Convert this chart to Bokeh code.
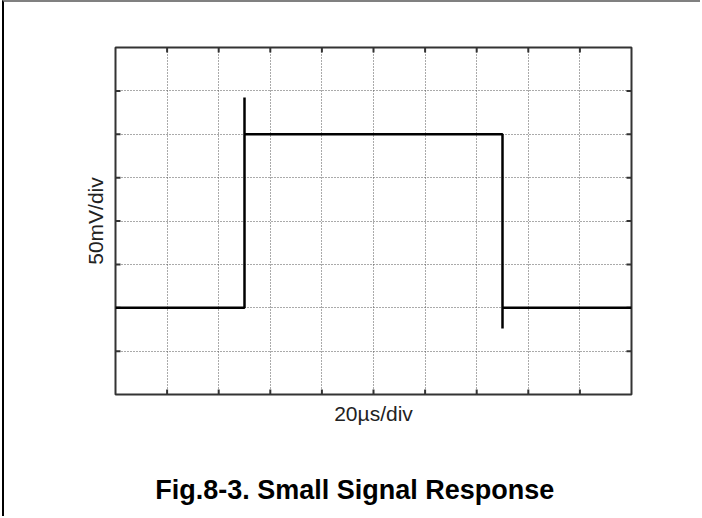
from bokeh.plotting import figure
from bokeh.models import FixedTicker, LinearAxis
from bokeh.embed import file_html
from bokeh.resources import INLINE

# data (in divisions)
time_div = [0, 2.5, 2.5, 2.5, 7.5, 7.5, 7.5, 10]
volt_div = [2, 2, 6.85, 6, 6, 1.52, 2, 2]
x_ticks = [0, 1, 2, 3, 4, 5, 6, 7, 8, 9, 10]
y_ticks = [0, 1, 2, 3, 4, 5, 6, 7, 8]
x_label = "20µs/div"
y_label = "50mV/div"
title_text = "Fig.8-3. Small Signal Response"

p = figure(width=698, height=516, x_range=(0, 10), y_range=(0, 8),
           output_backend="svg", toolbar_location=None,
           min_border_left=111, min_border_right=71,
           min_border_top=45, min_border_bottom=124)
p.background_fill_color = "white"
p.border_fill_color = "white"
p.outline_line_color = "#333333"
p.outline_line_width = 2

for g, t in ((p.xgrid, x_ticks), (p.ygrid, y_ticks)):
    g.ticker = FixedTicker(ticks=t)
    g.grid_line_color = "#555555"
    g.grid_line_width = 1
    g.grid_line_dash = "1 2"

def style_axis(ax, lab, so, size, bold=False, color="#222222"):
    ax.ticker = FixedTicker(ticks=[])
    ax.axis_line_color = None
    ax.major_tick_line_color = None
    ax.minor_tick_line_color = None
    ax.major_tick_out = 0
    ax.major_tick_in = 0
    ax.axis_label = lab
    ax.axis_label_text_font = "Liberation Sans"
    ax.axis_label_text_font_size = size
    ax.axis_label_text_font_style = "bold" if bold else "normal"
    ax.axis_label_text_color = color
    ax.axis_label_standoff = so

style_axis(p.xaxis[0], x_label, 7, "21px")
style_axis(p.yaxis[0], y_label, 9, "21px")

# caption is centred on the page rather than on the plot frame
title_axis = LinearAxis()
style_axis(title_axis, title_text + "\u00a0" * 5, 47, "27px", bold=True, color="black")
p.add_layout(title_axis, "below")

# inward tick marks on the four frame edges
inner_x = x_ticks[1:-1]
inner_y = y_ticks[1:-1]
tick_kw = dict(marker="dash", size=10, line_color="#333333", line_width=2)
p.scatter(inner_x, [y_ticks[0]] * len(inner_x), angle=90, angle_units="deg", **tick_kw)
p.scatter(inner_x, [y_ticks[-1]] * len(inner_x), angle=90, angle_units="deg", **tick_kw)
p.scatter([x_ticks[0]] * len(inner_y), inner_y, **tick_kw)
p.scatter([x_ticks[-1]] * len(inner_y), inner_y, **tick_kw)

p.line(time_div, volt_div, line_color="black", line_width=2.5)

p.styles = {"border-left": "2px solid black", "border-top": "2px solid #808080",
            "margin-left": "2px"}

open("out.html", "w").write(file_html(p, INLINE))
